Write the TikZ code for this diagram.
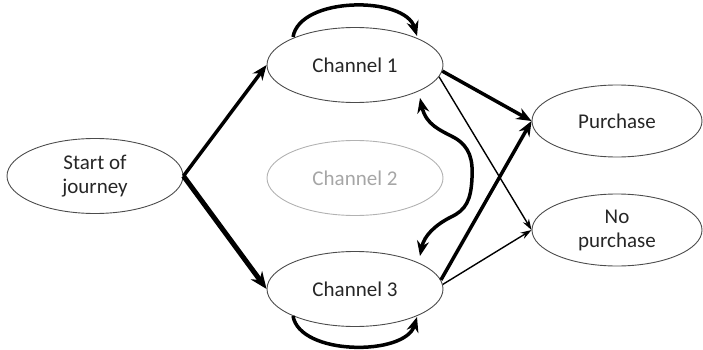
\documentclass[tikz,border=0pt]{standalone}
\usepackage{fontspec}
\setmainfont{Carlito}
\usetikzlibrary{shapes.geometric,arrows.meta,calc}
\begin{document}
\begin{tikzpicture}[x=1pt,y=-1pt,
  state/.style={ellipse,draw=black!70,line width=0.9pt,minimum width=176pt,minimum height=75pt,inner sep=0pt,
    font=\fontsize{21}{24}\selectfont,text=black!85,align=center},
  faded/.style={state,draw=black!30,text=black!35},
  flow/.style={line width=3.5pt,-{Stealth[length=15pt,width=12pt]}},
  heavy/.style={line width=5pt,-{Stealth[length=17pt,width=14pt]}},
  weak/.style={line width=1.4pt,-{Stealth[length=11pt,width=7pt]}}]
\useasboundingbox (0,0) rectangle (703,350);
\node[state] (start) at (95,176) {Start of\\journey};
\node[state] (c1) at (355,65) {Channel 1};
\node[faded] (c2) at (355,178) {Channel 2};
\node[state] (c3) at (355,289) {Channel 3};
\node[state,minimum width=170pt,minimum height=72pt] (buy) at (617,121) {Purchase};
\node[state,minimum width=170pt,minimum height=72pt] (nobuy) at (617,230) {No\\purchase};

% loop and switch end points on the channel outlines
\coordinate (c1top-l) at ($(c1.center)+(-62,-28)$);
\coordinate (c1top-r) at ($(c1.center)+(62,-29)$);
\coordinate (c1bot) at ($(c1.center)+(65,33)$);
\coordinate (c3bot-l) at ($(c3.center)+(-62,27)$);
\coordinate (c3bot-r) at ($(c3.center)+(62,28)$);
\coordinate (c3top) at ($(c3.center)+(65,-33)$);

% from the start into the channels
\draw[flow] (start.east) -- (c1.west);
\draw[heavy] (start.east) -- (c3.west);

% repeat visits of the same channel
\draw[flow] (c1top-l) .. controls (300,-4) and (405,-4) .. (c1top-r);
\draw[flow] (c3bot-l) .. controls (300,356) and (405,356) .. (c3bot-r);

% switching between channel 1 and channel 3
\draw[line width=3.5pt,{Stealth[length=15pt,width=12pt]}-{Stealth[length=15pt,width=12pt]}]
  (c1bot) .. controls (426,125) and (440,130) .. (455,138)
  .. controls (470,147) and (473,160) .. (472,178)
  .. controls (471,200) and (466,210) .. (451,217)
  .. controls (435,225) and (424,236) .. (c3top);

% outcomes
\draw[flow] (c1.-4) -- (buy.west);
\draw[weak] (c1.-8) -- (nobuy.west);
\draw[flow] (c3.6) -- (buy.west);
\draw[weak] (c3.3) -- (nobuy.west);
\end{tikzpicture}
\end{document}
